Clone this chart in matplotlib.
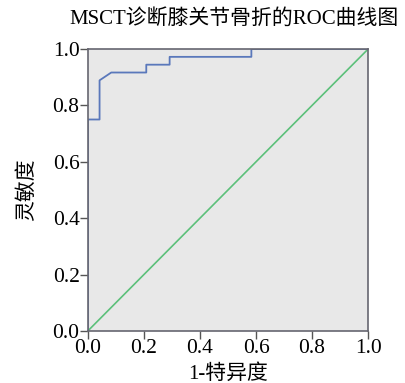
import matplotlib.pyplot as plt

plt.rcParams['font.family'] = ['Liberation Serif', 'Noto Sans CJK SC']

# ROC curve (1 - specificity, sensitivity)
fpr = [0.0, 0.0, 1/24, 1/24, 2/24, 5/24, 5/24, 7/24, 7/24, 14/24, 14/24, 1.0]
tpr = [0.0, 27/36, 27/36, 32/36, 33/36, 33/36, 34/36, 34/36, 35/36, 35/36, 1.0, 1.0]
ref = [0.0, 1.0]
ticks = [0.0, 0.2, 0.4, 0.6, 0.8, 1.0]

fig = plt.figure(figsize=(4.05, 3.83), dpi=100)
ax = fig.add_axes([0.217, 0.136, 0.692, 0.736])
ax.set_facecolor('#e8e8e8')

ax.plot(ref, ref, color='#5cc07a', lw=1.2)
ax.plot(fpr, tpr, color='#5a78bb', lw=1.3)

ax.set_xlim(0, 1)
ax.set_ylim(0, 1)
ax.set_xticks(ticks)
ax.set_yticks(ticks)
ax.set_xticklabels([f'{t:.1f}' for t in ticks])
ax.set_yticklabels([f'{t:.1f}' for t in ticks])
ax.tick_params(direction='out', length=6, width=1, labelsize=15.5, pad=0, color='#555555')
for s in ax.spines.values():
    s.set_color('#666670')
    s.set_linewidth(1.2)

ax.set_xlabel('1-特异度', fontsize=15, labelpad=4)
ax.set_ylabel('灵敏度', fontsize=15, labelpad=11)
ax.set_title('MSCT诊断膝关节骨折的ROC曲线图', fontsize=15, pad=18, x=0.52)

fig.savefig('out.png', dpi=100)
